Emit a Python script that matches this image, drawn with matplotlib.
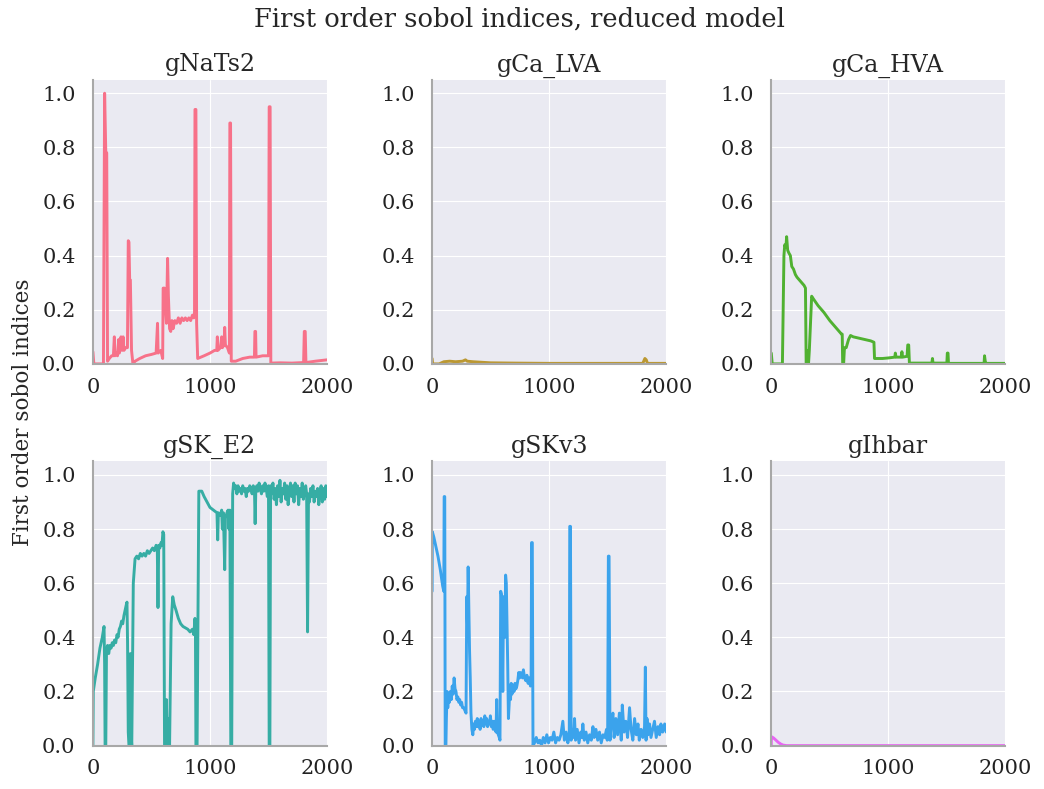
import matplotlib
matplotlib.use("Agg")
import matplotlib.pyplot as plt
import seaborn as sns

# Sobol first order indices over time, one curve per conductance
names = ["gNaTs2", "gCa_LVA", "gCa_HVA", "gSK_E2", "gSKv3", "gIhbar"]

# (time, index) breakpoints of each curve
nats2 = [(0, 0.045), (8, 0.0), (90, 0.0), (100, 1.0), (110, 0.78), (118, 0.78), (125, 0.01),
         (140, 0.02), (160, 0.03), (175, 0.03), (183, 0.10), (188, 0.03), (200, 0.04),
         (210, 0.03), (220, 0.09), (226, 0.04), (240, 0.10), (248, 0.05), (258, 0.10),
         (265, 0.05), (280, 0.06), (295, 0.06), (302, 0.455), (308, 0.45), (314, 0.31),
         (320, 0.31), (330, 0.05), (342, 0.0), (360, 0.01), (400, 0.02), (450, 0.03),
         (500, 0.035), (540, 0.04), (552, 0.15), (557, 0.04), (580, 0.05), (596, 0.02),
         (600, 0.28), (612, 0.28), (618, 0.22), (628, 0.15), (638, 0.39), (645, 0.25),
         (655, 0.13), (665, 0.12), (675, 0.16), (685, 0.13), (700, 0.16), (715, 0.15),
         (730, 0.17), (745, 0.15), (760, 0.17), (775, 0.16), (790, 0.17), (805, 0.16),
         (820, 0.17), (835, 0.16), (850, 0.18), (862, 0.17), (868, 0.19), (872, 0.94),
         (880, 0.94), (886, 0.15), (895, 0.02), (950, 0.03), (1000, 0.04), (1040, 0.05),
         (1058, 0.05), (1063, 0.10), (1068, 0.05), (1090, 0.06), (1100, 0.10), (1106, 0.06),
         (1120, 0.07), (1126, 0.135), (1132, 0.07), (1150, 0.06), (1166, 0.04), (1170, 0.89),
         (1176, 0.89), (1182, 0.01), (1220, 0.01), (1280, 0.02), (1340, 0.025), (1380, 0.025),
         (1384, 0.12), (1390, 0.12), (1394, 0.025), (1450, 0.03), (1500, 0.03), (1506, 0.95),
         (1514, 0.95), (1520, 0.003), (1600, 0.004), (1700, 0.003), (1800, 0.005),
         (1806, 0.12), (1814, 0.12), (1820, 0.005), (1900, 0.01), (2000, 0.015)]

calva = [(0, 0.02), (5, 0.0), (60, 0.0), (100, 0.008), (150, 0.01), (200, 0.008), (260, 0.01),
         (285, 0.015), (300, 0.01), (350, 0.008), (500, 0.004), (700, 0.003), (1000, 0.002),
         (1300, 0.002), (1500, 0.002), (1800, 0.002), (1818, 0.02), (1830, 0.015),
         (1840, 0.002), (2000, 0.002)]

cahva = [(0, 0.04), (8, 0.0), (95, 0.0), (108, 0.40), (115, 0.44), (125, 0.43), (131, 0.47),
         (140, 0.42), (150, 0.41), (163, 0.40), (175, 0.36), (190, 0.35), (206, 0.33),
         (220, 0.32), (240, 0.31), (260, 0.30), (280, 0.29), (292, 0.28), (298, 0.0),
         (306, 0.0), (312, 0.05), (318, 0.0), (325, 0.05), (345, 0.25), (360, 0.24),
         (400, 0.215), (450, 0.19), (500, 0.16), (550, 0.135), (600, 0.11), (606, 0.11),
         (610, 0.0), (618, 0.0), (625, 0.06), (640, 0.06), (660, 0.09), (677, 0.105),
         (700, 0.10), (750, 0.095), (800, 0.09), (850, 0.085), (877, 0.08), (882, 0.02),
         (950, 0.02), (1000, 0.022), (1055, 0.025), (1060, 0.04), (1066, 0.025), (1110, 0.025),
         (1116, 0.045), (1122, 0.025), (1160, 0.028), (1166, 0.07), (1174, 0.07), (1180, 0.003),
         (1300, 0.003), (1372, 0.003), (1377, 0.02), (1382, 0.003), (1500, 0.003), (1504, 0.04),
         (1510, 0.04), (1514, 0.002), (1700, 0.002), (1818, 0.002), (1822, 0.03), (1828, 0.01),
         (1834, 0.002), (2000, 0.002)]

ske2 = [(0, 0.0), (3, 0.2), (20, 0.25), (40, 0.30), (60, 0.36), (80, 0.40), (95, 0.44),
        (100, 0.30), (104, 0.0), (110, 0.0), (116, 0.35), (125, 0.37), (135, 0.34), (145, 0.37),
        (155, 0.36), (165, 0.38), (175, 0.37), (185, 0.39), (195, 0.38), (206, 0.41),
        (215, 0.40), (225, 0.43), (235, 0.44), (245, 0.46), (255, 0.45), (265, 0.48),
        (275, 0.50), (285, 0.52), (291, 0.53), (296, 0.38), (302, 0.05), (308, 0.0), (316, 0.0),
        (320, 0.34), (325, 0.05), (332, 0.0), (345, 0.60), (360, 0.69), (375, 0.70),
        (390, 0.69), (405, 0.71), (420, 0.70), (435, 0.71), (450, 0.70), (465, 0.72),
        (480, 0.71), (495, 0.72), (510, 0.73), (525, 0.72), (540, 0.74), (550, 0.73),
        (556, 0.51), (562, 0.74), (572, 0.73), (582, 0.75), (590, 0.74), (598, 0.79),
        (605, 0.78), (612, 0.0), (620, 0.0), (628, 0.17), (634, 0.0), (642, 0.10), (648, 0.0),
        (655, 0.0), (668, 0.45), (682, 0.55), (695, 0.52), (710, 0.50), (730, 0.47),
        (750, 0.45), (770, 0.44), (790, 0.435), (810, 0.43), (830, 0.42), (850, 0.43),
        (862, 0.41), (872, 0.47), (876, 0.42), (880, 0.0), (890, 0.0), (905, 0.94),
        (930, 0.94), (950, 0.92), (975, 0.90), (1000, 0.88), (1030, 0.87), (1060, 0.86),
        (1066, 0.76), (1072, 0.86), (1090, 0.85), (1100, 0.87), (1106, 0.80), (1115, 0.86),
        (1126, 0.65), (1132, 0.84), (1145, 0.86), (1155, 0.87), (1162, 0.80), (1170, 0.87),
        (1178, 0.0), (1186, 0.0), (1194, 0.93), (1202, 0.97), (1210, 0.95), (1220, 0.96),
        (1230, 0.93), (1240, 0.96), (1250, 0.94), (1260, 0.95), (1270, 0.93), (1280, 0.96),
        (1290, 0.94), (1300, 0.95), (1310, 0.92), (1320, 0.95), (1330, 0.94), (1340, 0.96),
        (1350, 0.95), (1360, 0.93), (1370, 0.96), (1380, 0.95), (1386, 0.82), (1392, 0.95),
        (1400, 0.96), (1410, 0.94), (1420, 0.97), (1430, 0.95), (1440, 0.93), (1450, 0.96),
        (1460, 0.94), (1470, 0.97), (1480, 0.95), (1490, 0.92), (1500, 0.96), (1506, 0.0),
        (1512, 0.0), (1518, 0.96), (1528, 0.93), (1538, 0.97), (1548, 0.91), (1558, 0.95),
        (1568, 0.89), (1578, 0.96), (1588, 0.92), (1598, 0.98), (1608, 0.90), (1618, 0.95),
        (1628, 0.93), (1638, 0.97), (1648, 0.91), (1658, 0.96), (1668, 0.89), (1678, 0.94),
        (1688, 0.97), (1698, 0.92), (1708, 0.96), (1718, 0.90), (1728, 0.97), (1738, 0.93),
        (1748, 0.96), (1758, 0.89), (1768, 0.95), (1778, 0.92), (1788, 0.97), (1798, 0.91),
        (1808, 0.94), (1818, 0.96), (1826, 0.93), (1834, 0.42), (1842, 0.93), (1850, 0.90),
        (1860, 0.95), (1870, 0.92), (1880, 0.96), (1890, 0.90), (1900, 0.94), (1910, 0.92),
        (1920, 0.95), (1930, 0.89), (1940, 0.94), (1950, 0.96), (1960, 0.90), (1970, 0.95),
        (1980, 0.91), (1990, 0.96), (2000, 0.92)]

skv3 = [(0, 0.57), (2, 0.79), (15, 0.77), (30, 0.74), (50, 0.70), (70, 0.65), (90, 0.59),
        (100, 0.57), (103, 0.92), (108, 0.92), (112, 0.0), (118, 0.0), (122, 0.10), (128, 0.20),
        (134, 0.14), (140, 0.19), (148, 0.16), (156, 0.20), (164, 0.17), (172, 0.22),
        (180, 0.19), (188, 0.25), (196, 0.21), (204, 0.20), (212, 0.17), (220, 0.18),
        (228, 0.16), (236, 0.17), (244, 0.15), (252, 0.16), (260, 0.14), (270, 0.14),
        (280, 0.13), (290, 0.12), (296, 0.55), (302, 0.45), (308, 0.66), (314, 0.50),
        (320, 0.35), (326, 0.25), (332, 0.12), (340, 0.06), (348, 0.04), (355, 0.08),
        (362, 0.06), (370, 0.09), (378, 0.07), (386, 0.10), (394, 0.07), (402, 0.09),
        (410, 0.06), (418, 0.10), (426, 0.08), (434, 0.09), (442, 0.07), (450, 0.11),
        (458, 0.08), (466, 0.10), (474, 0.07), (482, 0.09), (490, 0.08), (498, 0.11),
        (506, 0.07), (514, 0.09), (522, 0.06), (530, 0.09), (538, 0.07), (546, 0.05),
        (552, 0.17), (558, 0.05), (566, 0.04), (574, 0.03), (580, 0.02), (586, 0.57),
        (592, 0.56), (598, 0.40), (604, 0.20), (610, 0.55), (616, 0.55), (622, 0.40),
        (628, 0.63), (634, 0.60), (640, 0.45), (646, 0.30), (652, 0.10), (658, 0.15),
        (664, 0.22), (670, 0.17), (676, 0.23), (682, 0.19), (688, 0.20), (694, 0.22),
        (700, 0.20), (708, 0.23), (716, 0.21), (724, 0.22), (732, 0.24), (740, 0.27),
        (748, 0.25), (756, 0.27), (764, 0.26), (772, 0.25), (780, 0.28), (790, 0.25),
        (800, 0.24), (810, 0.26), (820, 0.23), (830, 0.25), (840, 0.22), (846, 0.26),
        (850, 0.75), (856, 0.75), (862, 0.0), (875, 0.01), (890, 0.03), (905, 0.01),
        (920, 0.02), (935, 0.0), (950, 0.03), (965, 0.01), (980, 0.04), (995, 0.01),
        (1010, 0.03), (1025, 0.02), (1040, 0.05), (1055, 0.01), (1070, 0.03), (1085, 0.02),
        (1100, 0.04), (1117, 0.09), (1130, 0.02), (1145, 0.05), (1160, 0.01), (1172, 0.04),
        (1176, 0.81), (1182, 0.81), (1188, 0.02), (1200, 0.06), (1210, 0.03), (1217, 0.10),
        (1225, 0.02), (1240, 0.06), (1255, 0.01), (1270, 0.05), (1280, 0.03), (1288, 0.08),
        (1300, 0.02), (1315, 0.05), (1330, 0.01), (1345, 0.04), (1360, 0.02), (1374, 0.07),
        (1385, 0.03), (1400, 0.06), (1415, 0.02), (1430, 0.05), (1445, 0.01), (1460, 0.04),
        (1475, 0.03), (1490, 0.06), (1496, 0.02), (1500, 0.05), (1506, 0.70), (1512, 0.70),
        (1520, 0.02), (1530, 0.08), (1545, 0.12), (1555, 0.03), (1570, 0.10), (1585, 0.04),
        (1600, 0.12), (1616, 0.02), (1625, 0.15), (1640, 0.05), (1655, 0.09), (1670, 0.03),
        (1687, 0.14), (1700, 0.06), (1715, 0.02), (1730, 0.10), (1745, 0.04), (1759, 0.08),
        (1770, 0.02), (1785, 0.06), (1800, 0.03), (1815, 0.07), (1822, 0.29), (1828, 0.02),
        (1836, 0.10), (1845, 0.04), (1858, 0.08), (1870, 0.03), (1885, 0.06), (1900, 0.09),
        (1915, 0.03), (1930, 0.07), (1944, 0.04), (1955, 0.08), (1970, 0.05), (1987, 0.08),
        (2000, 0.05)]

ihbar = [(0, 0.0), (1, 0.033), (20, 0.028), (40, 0.02), (60, 0.012), (80, 0.006),
         (100, 0.002), (130, 0.0), (2000, 0.0)]

series = [nats2, calva, cahva, ske2, skv3, ihbar]

sns.set_style("darkgrid")
plt.rcParams["font.family"] = ["DejaVu Serif"]
plt.rcParams["font.size"] = 14
colors = sns.color_palette("husl", 6)

fig, axes = plt.subplots(2, 3, figsize=(10.44, 7.89), dpi=100)
fig.subplots_adjust(left=0.089, right=0.963, top=0.899, bottom=0.055,
                    wspace=0.449, hspace=0.343)

for ax, name, pts, c in zip(axes.flat, names, series, colors):
    xs, ys = zip(*pts)
    ax.plot(xs, ys, color=c, lw=2.1)
    ax.set_title(name, fontsize=17)
    ax.set_xlim(0, 2000)
    ax.set_ylim(0, 1.05)
    ax.set_xticks([0, 1000, 2000])
    ax.set_yticks([0.0, 0.2, 0.4, 0.6, 0.8, 1.0])
    ax.set_yticklabels(["0.0", "0.2", "0.4", "0.6", "0.8", "1.0"])
    for side in ["top", "right"]:
        ax.spines[side].set_visible(False)
    for side in ["left", "bottom"]:
        ax.spines[side].set_visible(True)
        ax.spines[side].set_color("#a8a8a8")
        ax.spines[side].set_linewidth(1.5)
    ax.tick_params(axis="x", direction="out", length=6, width=1.2, color="#a8a8a8",
                   labelsize=15, labelcolor="#222222", pad=4)
    ax.tick_params(axis="y", direction="out", length=7.5, width=1.2, color="#a8a8a8",
                   labelsize=15, labelcolor="#222222", pad=5)

fig.suptitle("First order sobol indices, reduced model", fontsize=18.5, x=0.498, y=0.992)
fig.text(0.022, 0.478, "First order sobol indices", rotation=90, va="center",
         ha="center", fontsize=15.5)

fig.savefig("out.png", dpi=100)
